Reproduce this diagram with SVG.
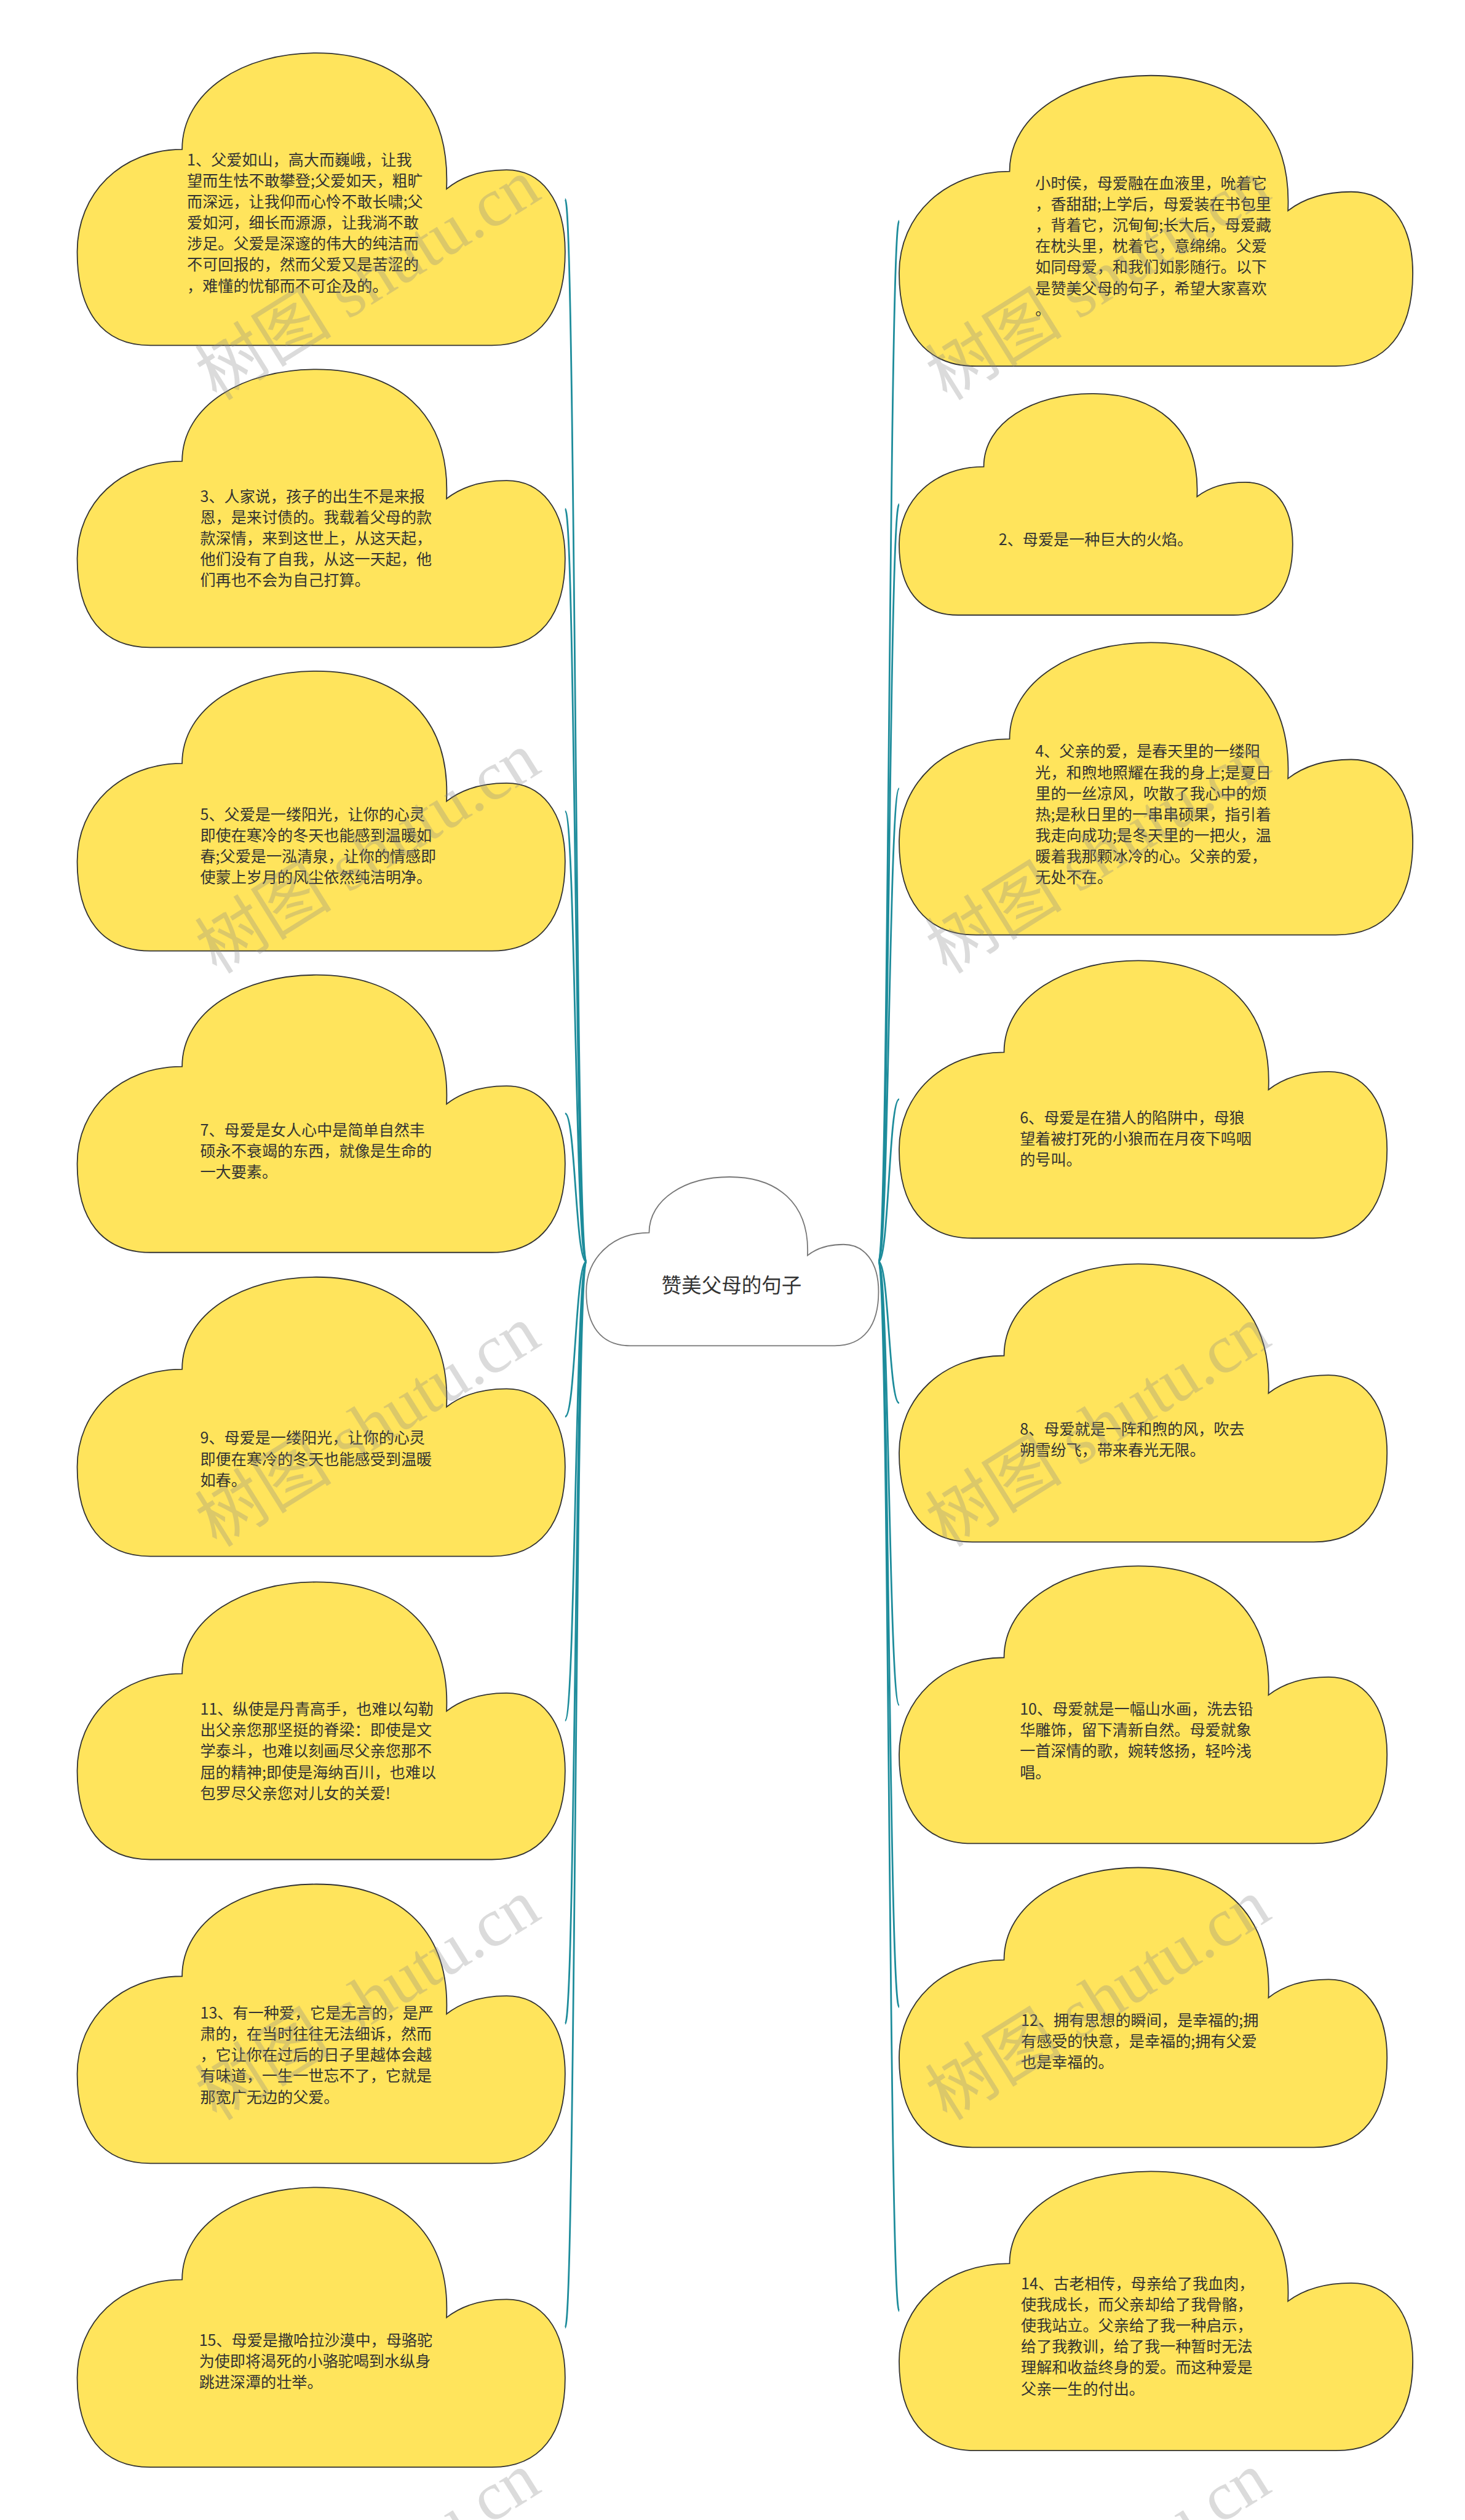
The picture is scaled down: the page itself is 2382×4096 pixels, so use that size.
<svg xmlns="http://www.w3.org/2000/svg" width="2382" height="4096" viewBox="0 0 2382 4096">
<defs>
<path id="cl" d="M215,330 C215,130 340,0 490,0 C650,0 765,150 757,465 C790,420 830,400 880,400 C950,400 1000,500 1000,680 C1000,880 950,1000 850,1000 L150,1000 C50,1000 0,880 0,680 C0,480 90,330 215,330 Z" vector-effect="non-scaling-stroke"/>
</defs>
<style>
.n{fill:#FFE45C;stroke:#333;stroke-width:1.8}
.c{fill:#fff;stroke:#777;stroke-width:1.8}
.t{font-family:"Noto Sans CJK SC","Noto Sans CJK JP",sans-serif;font-size:27px;fill:#333}
.ct{font-family:"Noto Sans CJK SC","Noto Sans CJK JP",sans-serif;font-size:35px;fill:#333;text-anchor:middle}
.e{fill:none;stroke:#1d8c9b;stroke-width:3}
.w{font-family:"Liberation Serif","Noto Sans CJK SC",serif;font-size:120px;fill:#888;fill-opacity:0.3}
</style>
<rect width="2382" height="4096" fill="#fff"/>
<g transform="scale(0.93)">
<g id="connectors">
<path class="e" d="M1025,2205 C1006,2205 1006,348 988,348"/>
<path class="e" d="M1025,2205 C1006,2205 1006,889 988,889"/>
<path class="e" d="M1025,2205 C1006,2205 1006,1418 988,1418"/>
<path class="e" d="M1025,2205 C1006,2205 1006,1946 988,1946"/>
<path class="e" d="M1025,2205 C1006,2205 1006,2476 988,2476"/>
<path class="e" d="M1025,2205 C1006,2205 1006,3007 988,3007"/>
<path class="e" d="M1025,2205 C1006,2205 1006,3537 988,3537"/>
<path class="e" d="M1025,2205 C1006,2205 1006,4068 988,4068"/>
<path class="e" d="M1536,2205 C1554,2205 1554,386 1572,386"/>
<path class="e" d="M1536,2205 C1554,2205 1554,881 1572,881"/>
<path class="e" d="M1536,2205 C1554,2205 1554,1378 1572,1378"/>
<path class="e" d="M1536,2205 C1554,2205 1554,1921 1572,1921"/>
<path class="e" d="M1536,2205 C1554,2205 1554,2452 1572,2452"/>
<path class="e" d="M1536,2205 C1554,2205 1554,2980 1572,2980"/>
<path class="e" d="M1536,2205 C1554,2205 1554,3508 1572,3508"/>
<path class="e" d="M1536,2205 C1554,2205 1554,4039 1572,4039"/>
</g>
<g id="center">
<use href="#cl" class="c" transform="translate(1025,2057) scale(0.511,0.295)"/>
<text class="ct" x="1279" y="2259">赞美父母的句子</text>
</g>
<g id="n1">
<use href="#cl" class="n" transform="translate(135,92.6) scale(0.853,0.511)"/>
<text class="t" x="327" y="289"><tspan x="327">1、父爱如山，高大而巍峨，让我</tspan><tspan x="327" dy="36.7">望而生怯不敢攀登;父爱如天，粗旷</tspan><tspan x="327" dy="36.7">而深远，让我仰而心怜不敢长啸;父</tspan><tspan x="327" dy="36.7">爱如河，细长而源源，让我淌不敢</tspan><tspan x="327" dy="36.7">涉足。父爱是深邃的伟大的纯洁而</tspan><tspan x="327" dy="36.7">不可回报的，然而父爱又是苦涩的</tspan><tspan x="327" dy="36.7">，难懂的忧郁而不可企及的。</tspan></text>
</g>
<g id="n3">
<use href="#cl" class="n" transform="translate(135,645.6) scale(0.853,0.486)"/>
<text class="t" x="350" y="877"><tspan x="350">3、人家说，孩子的出生不是来报</tspan><tspan x="350" dy="36.7">恩，是来讨债的。我载着父母的款</tspan><tspan x="350" dy="36.7">款深情，来到这世上，从这天起，</tspan><tspan x="350" dy="36.7">他们没有了自我，从这一天起，他</tspan><tspan x="350" dy="36.7">们再也不会为自己打算。</tspan></text>
</g>
<g id="n5">
<use href="#cl" class="n" transform="translate(135,1173) scale(0.853,0.489)"/>
<text class="t" x="350" y="1433"><tspan x="350">5、父爱是一缕阳光，让你的心灵</tspan><tspan x="350" dy="36.7">即使在寒冷的冬天也能感到温暖如</tspan><tspan x="350" dy="36.7">春;父爱是一泓清泉，让你的情感即</tspan><tspan x="350" dy="36.7">使蒙上岁月的风尘依然纯洁明净。</tspan></text>
</g>
<g id="n7">
<use href="#cl" class="n" transform="translate(135,1704) scale(0.853,0.485)"/>
<text class="t" x="350" y="1985"><tspan x="350">7、母爱是女人心中是简单自然丰</tspan><tspan x="350" dy="36.7">硕永不衰竭的东西，就像是生命的</tspan><tspan x="350" dy="36.7">一大要素。</tspan></text>
</g>
<g id="n9">
<use href="#cl" class="n" transform="translate(135,2232) scale(0.853,0.488)"/>
<text class="t" x="350" y="2523"><tspan x="350">9、母爱是一缕阳光，让你的心灵</tspan><tspan x="350" dy="36.7">即便在寒冷的冬天也能感受到温暖</tspan><tspan x="350" dy="36.7">如春。</tspan></text>
</g>
<g id="n11">
<use href="#cl" class="n" transform="translate(135,2765) scale(0.853,0.485)"/>
<text class="t" x="350" y="2997"><tspan x="350">11、纵使是丹青高手，也难以勾勒</tspan><tspan x="350" dy="36.7">出父亲您那坚挺的脊梁：即使是文</tspan><tspan x="350" dy="36.7">学泰斗，也难以刻画尽父亲您那不</tspan><tspan x="350" dy="36.7">屈的精神;即使是海纳百川，也难以</tspan><tspan x="350" dy="36.7">包罗尽父亲您对儿女的关爱!</tspan></text>
</g>
<g id="n13">
<use href="#cl" class="n" transform="translate(135,3293) scale(0.853,0.488)"/>
<text class="t" x="350" y="3528"><tspan x="350">13、有一种爱，它是无言的，是严</tspan><tspan x="350" dy="36.7">肃的，在当时往往无法细诉，然而</tspan><tspan x="350" dy="36.7">，它让你在过后的日子里越体会越</tspan><tspan x="350" dy="36.7">有味道，一生一世忘不了，它就是</tspan><tspan x="350" dy="36.7">那宽广无边的父爱。</tspan></text>
</g>
<g id="n15">
<use href="#cl" class="n" transform="translate(135,3823) scale(0.853,0.489)"/>
<text class="t" x="348" y="4100"><tspan x="348">15、母爱是撒哈拉沙漠中，母骆驼</tspan><tspan x="348" dy="36.7">为使即将渴死的小骆驼喝到水纵身</tspan><tspan x="348" dy="36.7">跳进深潭的壮举。</tspan></text>
</g>
<g id="r1">
<use href="#cl" class="n" transform="translate(1572,132) scale(0.898,0.508)"/>
<text class="t" x="1810" y="330"><tspan x="1810">小时侯，母爱融在血液里，吮着它</tspan><tspan x="1810" dy="36.7">，香甜甜;上学后，母爱装在书包里</tspan><tspan x="1810" dy="36.7">，背着它，沉甸甸;长大后，母爱藏</tspan><tspan x="1810" dy="36.7">在枕头里，枕着它，意绵绵。父爱</tspan><tspan x="1810" dy="36.7">如同母爱，和我们如影随行。以下</tspan><tspan x="1810" dy="36.7">是赞美父母的句子，希望大家喜欢</tspan><tspan x="1810" dy="36.7">。</tspan></text>
</g>
<g id="r2">
<use href="#cl" class="n" transform="translate(1572,688) scale(0.688,0.387)"/>
<text class="t" x="1746" y="953">2、母爱是一种巨大的火焰。</text>
</g>
<g id="r4">
<use href="#cl" class="n" transform="translate(1572,1123) scale(0.898,0.511)"/>
<text class="t" x="1810" y="1323"><tspan x="1810">4、父亲的爱，是春天里的一缕阳</tspan><tspan x="1810" dy="36.7">光，和煦地照耀在我的身上;是夏日</tspan><tspan x="1810" dy="36.7">里的一丝凉风，吹散了我心中的烦</tspan><tspan x="1810" dy="36.7">热;是秋日里的一串串硕果，指引着</tspan><tspan x="1810" dy="36.7">我走向成功;是冬天里的一把火，温</tspan><tspan x="1810" dy="36.7">暖着我那颗冰冷的心。父亲的爱，</tspan><tspan x="1810" dy="36.7">无处不在。</tspan></text>
</g>
<g id="r6">
<use href="#cl" class="n" transform="translate(1572,1679) scale(0.853,0.485)"/>
<text class="t" x="1783" y="1963"><tspan x="1783">6、母爱是在猎人的陷阱中，母狼</tspan><tspan x="1783" dy="36.7">望着被打死的小狼而在月夜下呜咽</tspan><tspan x="1783" dy="36.7">的号叫。</tspan></text>
</g>
<g id="r8">
<use href="#cl" class="n" transform="translate(1572,2209) scale(0.853,0.486)"/>
<text class="t" x="1783" y="2507"><tspan x="1783">8、母爱就是一阵和煦的风，吹去</tspan><tspan x="1783" dy="36.7">朔雪纷飞，带来春光无限。</tspan></text>
</g>
<g id="r10">
<use href="#cl" class="n" transform="translate(1572,2737) scale(0.853,0.485)"/>
<text class="t" x="1783" y="2997"><tspan x="1783">10、母爱就是一幅山水画，洗去铅</tspan><tspan x="1783" dy="36.7">华雕饰，留下清新自然。母爱就象</tspan><tspan x="1783" dy="36.7">一首深情的歌，婉转悠扬，轻吟浅</tspan><tspan x="1783" dy="36.7">唱。</tspan></text>
</g>
<g id="r12">
<use href="#cl" class="n" transform="translate(1572,3264) scale(0.853,0.489)"/>
<text class="t" x="1785" y="3541"><tspan x="1785">12、拥有思想的瞬间，是幸福的;拥</tspan><tspan x="1785" dy="36.7">有感受的快意，是幸福的;拥有父爱</tspan><tspan x="1785" dy="36.7">也是幸福的。</tspan></text>
</g>
<g id="r14">
<use href="#cl" class="n" transform="translate(1572,3795) scale(0.898,0.488)"/>
<text class="t" x="1785" y="4001"><tspan x="1785">14、古老相传，母亲给了我血肉，</tspan><tspan x="1785" dy="36.7">使我成长，而父亲却给了我骨骼，</tspan><tspan x="1785" dy="36.7">使我站立。父亲给了我一种启示，</tspan><tspan x="1785" dy="36.7">给了我教训，给了我一种暂时无法</tspan><tspan x="1785" dy="36.7">理解和收益终身的爱。而这种爱是</tspan><tspan x="1785" dy="36.7">父亲一生的付出。</tspan></text>
</g>
<g id="watermarks">
<text class="w" transform="translate(379,702) rotate(-32)">树图 shutu.cn</text>
<text class="w" transform="translate(379,1704) rotate(-32)">树图 shutu.cn</text>
<text class="w" transform="translate(379,2706) rotate(-32)">树图 shutu.cn</text>
<text class="w" transform="translate(379,3708) rotate(-32)">树图 shutu.cn</text>
<text class="w" transform="translate(379,4710) rotate(-32)">树图 shutu.cn</text>
<text class="w" transform="translate(1656,702) rotate(-32)">树图 shutu.cn</text>
<text class="w" transform="translate(1656,1704) rotate(-32)">树图 shutu.cn</text>
<text class="w" transform="translate(1656,2706) rotate(-32)">树图 shutu.cn</text>
<text class="w" transform="translate(1656,3708) rotate(-32)">树图 shutu.cn</text>
<text class="w" transform="translate(1656,4710) rotate(-32)">树图 shutu.cn</text>
</g>
</g>
</svg>
